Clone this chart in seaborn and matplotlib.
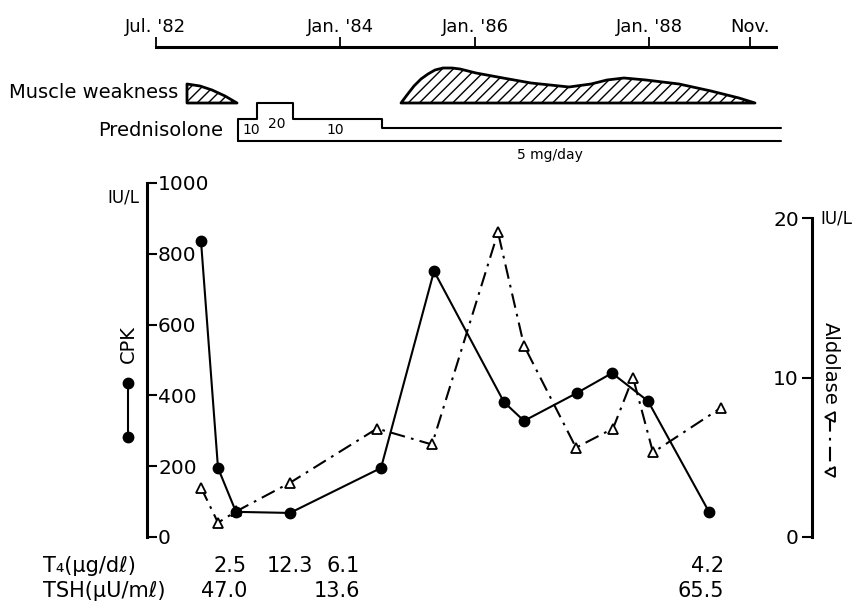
import numpy as np
import matplotlib
matplotlib.use("Agg")
import matplotlib.pyplot as plt
import seaborn as sns
import pandas as pd
from matplotlib.transforms import blended_transform_factory

# ---------------- data ----------------
# sampling positions (schematic time axis, same units as the timeline)
cpk_pos = [201, 218, 236, 290, 381, 434, 504, 524, 577, 612, 648, 709]
cpk_vals = [836, 195, 71, 68, 195, 751, 381, 328, 407, 463, 384, 71]
ald_pos = [201, 218, 236, 290, 377, 432, 498, 524, 576, 613, 633, 653, 721]
ald_vals = [3.1, 0.9, 1.6, 3.4, 6.8, 5.8, 19.1, 12.0, 5.6, 6.8, 10.0, 5.3, 8.1]

timeline_pos = [156, 340, 475, 649, 750]
timeline_labels = ["Jul. '82", "Jan. '84", "Jan. '86", "Jan. '88", "Nov."]
timeline_span = [156, 776]

mw1_pos = [187, 187, 200, 212, 225, 237]
mw1_sev = [0, 19, 17, 13, 7, 0]
mw2_pos = [401, 407, 414, 421, 428, 435, 443, 452, 460, 476, 503, 531, 569,
           591, 607, 624, 646, 679, 711, 739, 755]
mw2_sev = [0, 8, 17, 24, 29, 33, 35, 35, 34, 30, 25, 20, 16, 19, 23, 25, 23,
           19, 12, 5, 0]

pred_pos = [238, 238, 257, 293, 382, 781]
pred_dose = [0, 10, 20, 10, 5, 5]
pred_label_pos = [251, 277, 335]
pred_label_txt = ["10", "20", "10"]

t4_pos = [247, 313, 360, 724]
t4_vals = ["2.5", "12.3", "6.1", "4.2"]
tsh_pos = [247, 360, 724]
tsh_vals = ["47.0", "13.6", "65.5"]

cpk_ticks = [0, 200, 400, 600, 800, 1000]
ald_ticks = [0, 10, 20]

# ---------------- figure ----------------
sns.set_theme(style="white")
plt.rcParams["font.family"] = ["DejaVu Sans"]
for k in ("text.color", "axes.labelcolor", "xtick.color", "ytick.color",
          "axes.edgecolor"):
    plt.rcParams[k] = "black"
plt.rcParams["hatch.linewidth"] = 1.0

W, H = 859, 603
fig = plt.figure(figsize=(W / 100, H / 100), dpi=100)
fig.patch.set_facecolor("white")


def box(x0, y0, x1, y1):
    return [x0 / W, 1 - y1 / H, (x1 - x0) / W, (y1 - y0) / H]


XLIM = (147, 812)
LW = 1.5
DASH = (0, (7, 3, 1.3, 3))

# main axes
ax = fig.add_axes(box(147, 183, 812, 537))
ax.set_facecolor("none")
ax.set_xlim(*XLIM)
ax.set_ylim(0, 1000)
ax2 = ax.twinx()
ax2.set_ylim(0, 20 * 354 / 319)

df_ald = pd.DataFrame({"pos": ald_pos, "val": ald_vals})
df_cpk = pd.DataFrame({"pos": cpk_pos, "val": cpk_vals})

sns.lineplot(data=df_ald, x="pos", y="val", ax=ax2, sort=False, estimator=None,
             color="black", linewidth=LW, linestyle=DASH,
             marker="^", markersize=7.5, markerfacecolor="white",
             markeredgecolor="black", markeredgewidth=1.3, zorder=2)
sns.lineplot(data=df_cpk, x="pos", y="val", ax=ax, sort=False, estimator=None,
             color="black", linewidth=LW, marker="o", markersize=7.5,
             markerfacecolor="black", markeredgecolor="black",
             markeredgewidth=1, zorder=3)
ax.set_zorder(ax2.get_zorder() + 1)
ax.patch.set_visible(False)

for a in (ax, ax2):
    a.set_xlabel("")
    a.set_ylabel("")
    a.set_xticks([])
    for s in ("top", "bottom"):
        a.spines[s].set_visible(False)
ax.spines["right"].set_visible(False)
ax2.spines["left"].set_visible(False)
ax.spines["left"].set_linewidth(2.2)
ax2.spines["right"].set_linewidth(2.2)
ax2.spines["right"].set_bounds(0, 20)

ax.set_yticks(cpk_ticks)
ax.set_yticklabels([str(v) for v in cpk_ticks])
ax.tick_params(axis="y", direction="in", length=7, width=1.5, color="black",
               pad=-8, labelsize=14.5, left=True, labelleft=True)
for t in ax.get_yticklabels():
    t.set_ha("left")

ax2.set_yticks(ald_ticks)
ax2.set_yticklabels([str(v) for v in ald_ticks])
ax2.tick_params(axis="y", direction="in", length=7, width=1.5, color="black",
                pad=-9.5, labelsize=14.5, right=True, labelright=True)
for t in ax2.get_yticklabels():
    t.set_ha("right")

# unit labels
ax.text(-0.012, 0.958, "IU/L", transform=ax.transAxes, ha="right", va="center",
        fontsize=12)
ax.text(1.013, 0.901, "IU/L", transform=ax.transAxes, ha="left", va="center",
        fontsize=12)

# CPK legend key
ax.text(-0.0286, 0.545, "CPK", transform=ax.transAxes, rotation=90,
        ha="center", va="center", fontsize=14)
ax.plot([-0.0286, -0.0286], [0.435, 0.2825], transform=ax.transAxes,
        clip_on=False, color="black", linewidth=LW, marker="o",
        markersize=7.5)

# Aldolase legend key
ax.text(1.027, 0.49, "Aldolase", transform=ax.transAxes, rotation=-90,
        ha="center", va="center", fontsize=14)
ax.plot([1.027, 1.027], [0.339, 0.184], transform=ax.transAxes,
        clip_on=False, color="black", linewidth=LW,
        linestyle=DASH, marker="<", markersize=7.5,
        markerfacecolor="white", markeredgecolor="black", markeredgewidth=1.3)

# bottom table
tr = blended_transform_factory(ax.transData, fig.transFigure)
y_t4 = 1 - 566 / H
y_tsh = 1 - 591 / H
fig.text(43 / W, y_t4, "T\u2084(\u03bcg/d\u2113)", ha="left", va="center",
         fontsize=15)
fig.text(43 / W, y_tsh, "TSH(\u03bcU/m\u2113)", ha="left", va="center",
         fontsize=15)
for p, v in zip(t4_pos, t4_vals):
    ax.text(p, y_t4, v, transform=tr, ha="right", va="center", fontsize=15)
for p, v in zip(tsh_pos, tsh_vals):
    ax.text(p, y_tsh, v, transform=tr, ha="right", va="center", fontsize=15)

# ---------------- timeline ----------------
axt = fig.add_axes(box(147, 40, 812, 47))
axt.set_facecolor("none")
axt.set_xlim(*XLIM)
axt.set_ylim(0, 1)
axt.set_yticks([])
for s in ("top", "left", "right"):
    axt.spines[s].set_visible(False)
axt.spines["bottom"].set_linewidth(2.2)
axt.spines["bottom"].set_bounds(*timeline_span)
axt.set_xticks(timeline_pos)
axt.set_xticklabels(timeline_labels)
axt.tick_params(axis="x", direction="in", length=7, width=1.3, color="black",
                bottom=True, top=False, labelbottom=False, labeltop=True,
                pad=3, labelsize=13)

# ---------------- muscle weakness ----------------
axm = fig.add_axes(box(147, 60, 812, 103))
axm.set_xlim(*XLIM)
axm.set_ylim(0, 43)
axm.axis("off")
for xs, ys in ((mw1_pos, mw1_sev), (mw2_pos, mw2_sev)):
    axm.fill_between(xs, ys, 0, facecolor="white", edgecolor="black",
                     hatch="///", linewidth=2, clip_on=False)
fig.text(178 / W, 1 - 93 / H, "Muscle weakness", ha="right", va="center",
         fontsize=14)

# ---------------- prednisolone ----------------
axp = fig.add_axes(box(147, 95, 812, 141))
axp.set_facecolor("none")
axp.set_xlim(*XLIM)
axp.set_yscale("function", functions=(lambda v: np.abs(v) ** 0.75,
                                      lambda v: np.abs(v) ** (1 / 0.75)))
axp.set_ylim(0, 26.2)
axp.axis("off")
axp.plot(pred_pos, pred_dose, drawstyle="steps-post", color="black",
         linewidth=1.5, clip_on=False)
axp.plot([pred_pos[0], pred_pos[-1]], [0, 0], color="black", linewidth=1.5,
         clip_on=False)
trp = blended_transform_factory(axp.transData, fig.transFigure)
for p, t, yy in zip(pred_label_pos, pred_label_txt, [130, 124, 130]):
    axp.text(p, 1 - yy / H, t, transform=trp, ha="center", va="center",
             fontsize=10)
fig.text(550 / W, 1 - 155 / H, "5 mg/day", ha="center", va="center",
         fontsize=10)
fig.text(223 / W, 1 - 130 / H, "Prednisolone", ha="right", va="center",
         fontsize=14)

fig.savefig("out.png", dpi=100, facecolor="white")
